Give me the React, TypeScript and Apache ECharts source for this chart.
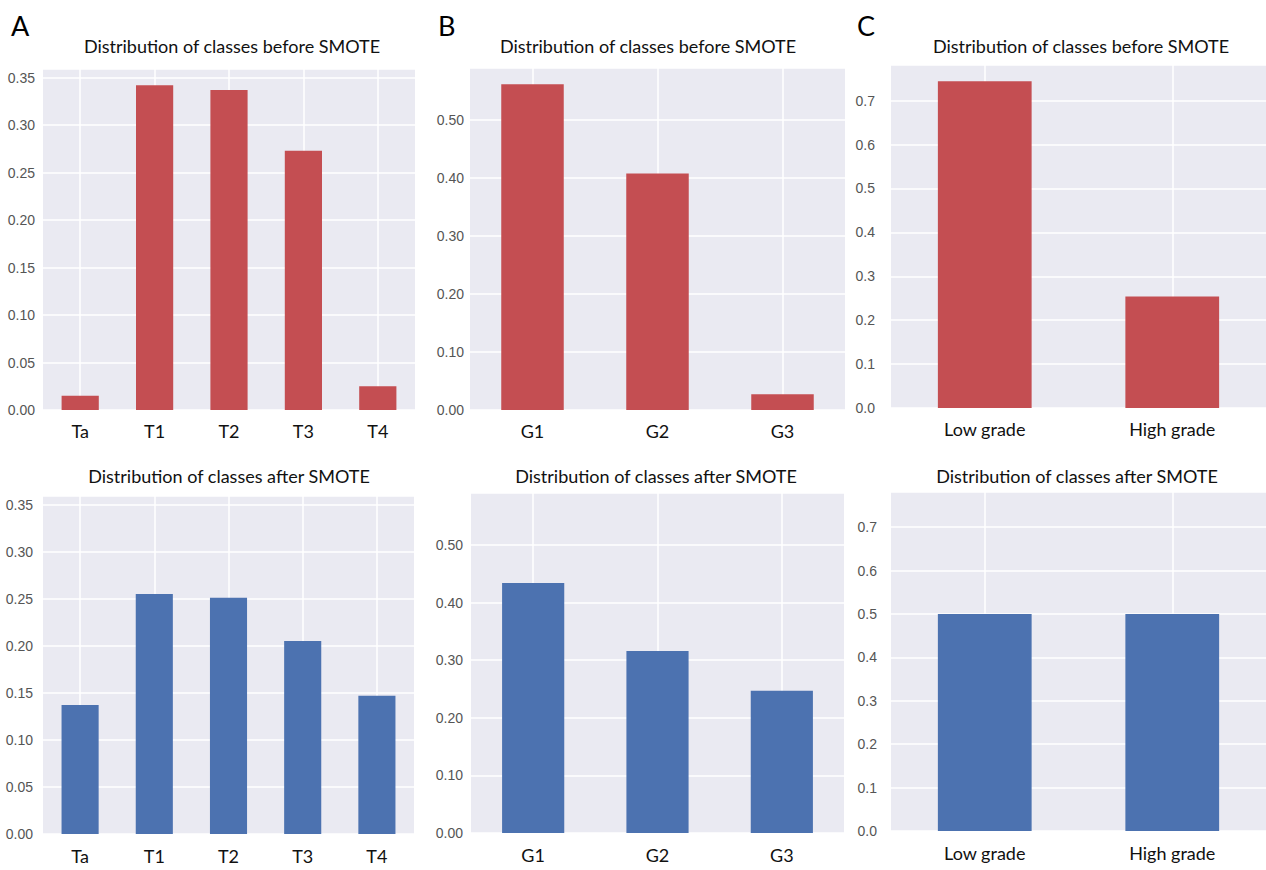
import React, { useEffect, useRef } from "react";
import * as echarts from "echarts";

// ---- data ----
const stageCategories = ["Ta", "T1", "T2", "T3", "T4"];
const stageBefore = [0.015, 0.342, 0.337, 0.273, 0.025];
const stageAfter = [0.137, 0.255, 0.251, 0.205, 0.147];

const gradeCategories = ["G1", "G2", "G3"];
const gradeBefore = [0.562, 0.408, 0.027];
const gradeAfter = [0.434, 0.316, 0.247];

const binaryCategories = ["Low grade", "High grade"];
const binaryBefore = [0.744, 0.254];
const binaryAfter = [0.5, 0.5];

const titleBefore = "Distribution of classes before SMOTE";
const titleAfter = "Distribution of classes after SMOTE";
const panelLetters = ["A", "B", "C"];

// ---- style ----
const RED = "#C44E52";
const BLUE = "#4C72B0";
const BG = "#EAEAF2";
const TXT_FONT = "Lato";
const NUM_FONT = "Liberation Sans";

type Panel = {
  cats: string[];
  data: number[];
  color: string;
  left: number;
  top: number;
  width: number;
  height: number;
  max: number;
  interval: number;
  dec: number;
  yMargin: number;
  xMargin: number;
  title: string;
  titleX: number;
  titleY: number;
};

const maxOf = (a: number[], b: number[]) => Math.max(...a, ...b) * 1.05;
const stageMax = maxOf(stageBefore, stageAfter);
const gradeMax = maxOf(gradeBefore, gradeAfter);
const binaryMax = maxOf(binaryBefore, binaryAfter);

const panels: Panel[] = [
  { cats: stageCategories, data: stageBefore, color: RED, left: 43, top: 69, width: 372, height: 341, max: stageMax, interval: 0.05, dec: 2, yMargin: 8, xMargin: 12, title: titleBefore, titleX: 232, titleY: 46 },
  { cats: gradeCategories, data: gradeBefore, color: RED, left: 470, top: 68, width: 375, height: 342, max: gradeMax, interval: 0.1, dec: 2, yMargin: 6, xMargin: 12, title: titleBefore, titleX: 648, titleY: 46 },
  { cats: binaryCategories, data: binaryBefore, color: RED, left: 891, top: 65, width: 375, height: 343, max: binaryMax, interval: 0.1, dec: 1, yMargin: 16, xMargin: 12, title: titleBefore, titleX: 1081, titleY: 46 },
  { cats: stageCategories, data: stageAfter, color: BLUE, left: 43, top: 496, width: 371, height: 338, max: stageMax, interval: 0.05, dec: 2, yMargin: 10, xMargin: 13, title: titleAfter, titleX: 229, titleY: 476 },
  { cats: gradeCategories, data: gradeAfter, color: BLUE, left: 471, top: 493, width: 373, height: 340, max: gradeMax, interval: 0.1, dec: 2, yMargin: 8, xMargin: 13, title: titleAfter, titleX: 656, titleY: 476 },
  { cats: binaryCategories, data: binaryAfter, color: BLUE, left: 891, top: 492, width: 375, height: 339, max: binaryMax, interval: 0.1, dec: 1, yMargin: 14, xMargin: 13, title: titleAfter, titleX: 1077, titleY: 476 },
];

const letterPos = [
  { x: 11, y: 25 },
  { x: 438, y: 25 },
  { x: 857, y: 25 },
];

export default function App() {
  const ref = useRef<HTMLDivElement>(null);

  useEffect(() => {
    if (!ref.current) return;
    const chart = echarts.init(ref.current, null, { renderer: "svg" });

    const option: any = {
      animation: false,
      backgroundColor: "#ffffff",
      grid: panels.map((p) => ({
        left: p.left,
        top: p.top,
        width: p.width,
        height: p.height,
        show: true,
        backgroundColor: BG,
        borderWidth: 0,
        containLabel: false,
      })),
      xAxis: panels.map((p, i) => ({
        type: "category",
        gridIndex: i,
        data: p.cats,
        boundaryGap: true,
        axisLine: { show: false },
        axisTick: { show: false },
        axisLabel: {
          color: "#111",
          fontSize: 18,
          fontFamily: TXT_FONT,
          margin: p.xMargin,
        },
        splitLine: {
          show: true,
          alignWithLabel: true,
          lineStyle: { color: "#ffffff", width: 1.5 },
        },
      })),
      yAxis: panels.map((p, i) => ({
        type: "value",
        gridIndex: i,
        min: 0,
        max: p.max,
        interval: p.interval,
        axisLine: { show: false },
        axisTick: { show: false },
        axisLabel: {
          color: "#555",
          fontSize: 14,
          fontFamily: NUM_FONT,
          margin: p.yMargin,
          showMaxLabel: false,
          formatter: (v: number) => v.toFixed(p.dec),
        },
        splitLine: {
          show: true,
          lineStyle: { color: "#ffffff", width: 1.5 },
        },
      })),
      series: panels.map((p, i) => ({
        type: "bar",
        xAxisIndex: i,
        yAxisIndex: i,
        data: p.data,
        barWidth: "50%",
        itemStyle: { color: p.color },
        silent: true,
      })),
      graphic: [
        ...panels.map((p) => ({
          type: "text",
          x: p.titleX,
          y: p.titleY,
          style: {
            text: p.title,
            fontSize: 18,
            fontFamily: TXT_FONT,
            fill: "#111",
            textAlign: "center",
            textVerticalAlign: "middle",
          },
        })),
        ...panelLetters.map((l, i) => ({
          type: "text",
          x: letterPos[i].x,
          y: letterPos[i].y,
          style: {
            text: l,
            fontSize: 27,
            fontFamily: TXT_FONT,
            fill: "#000",
            textAlign: "left",
            textVerticalAlign: "middle",
          },
        })),
      ],
    };

    chart.setOption(option);
    return () => chart.dispose();
  }, []);

  return (
    <div
      ref={ref}
      style={{ position: "absolute", left: 0, top: 0, width: 1266, height: 870 }}
    />
  );
}
